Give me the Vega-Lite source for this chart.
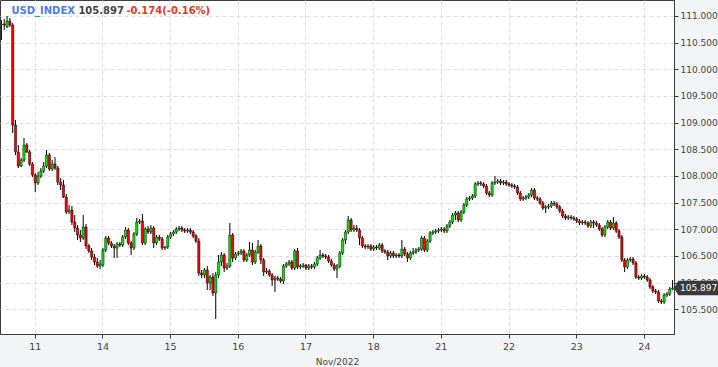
{
"$schema": "https://vega.github.io/schema/vega-lite/v6.json",
"width": 674,
"height": 334,
"padding": 0,
"autosize": {"type": "pad"},
"background": "#f3f4f6",
"view": {"fill": "#ffffff", "stroke": "#3c3c3c", "strokeWidth": 1},
"config": {"font": "DejaVu Sans", "axis": {"labelOverlap": false}, "axisY": {"labelOverlap": false}},
"data": {"values": [
{"t":"10 12:00","o":110.831,"h":110.925,"l":110.550,"c":110.850},
{"t":"10 13:00","o":110.850,"h":110.944,"l":110.737,"c":110.831},
{"t":"10 14:00","o":110.793,"h":111.000,"l":110.775,"c":110.906},
{"t":"10 15:00","o":110.906,"h":110.962,"l":110.793,"c":110.831},
{"t":"10 16:00","o":110.831,"h":110.868,"l":108.805,"c":108.955},
{"t":"10 17:00","o":108.955,"h":109.049,"l":108.392,"c":108.448},
{"t":"10 18:00","o":108.448,"h":108.580,"l":108.148,"c":108.186},
{"t":"10 19:00","o":108.186,"h":108.336,"l":108.167,"c":108.298},
{"t":"10 20:00","o":108.298,"h":108.711,"l":108.261,"c":108.580},
{"t":"10 21:00","o":108.580,"h":108.617,"l":108.430,"c":108.448},
{"t":"10 22:00","o":108.448,"h":108.486,"l":108.186,"c":108.223},
{"t":"10 23:00","o":108.223,"h":108.261,"l":107.979,"c":108.017},
{"t":"11 00:00","o":108.017,"h":108.054,"l":107.698,"c":107.867},
{"t":"11 01:00","o":107.867,"h":108.073,"l":107.829,"c":107.998},
{"t":"11 02:00","o":107.998,"h":108.148,"l":107.960,"c":108.092},
{"t":"11 03:00","o":108.092,"h":108.261,"l":108.054,"c":108.186},
{"t":"11 04:00","o":108.186,"h":108.486,"l":108.148,"c":108.392},
{"t":"11 05:00","o":108.392,"h":108.430,"l":108.092,"c":108.129},
{"t":"11 06:00","o":108.129,"h":108.298,"l":108.092,"c":108.223},
{"t":"11 07:00","o":108.223,"h":108.354,"l":108.111,"c":108.148},
{"t":"11 08:00","o":108.148,"h":108.186,"l":107.829,"c":107.885},
{"t":"11 09:00","o":107.885,"h":107.960,"l":107.735,"c":107.829},
{"t":"11 10:00","o":107.829,"h":107.923,"l":107.585,"c":107.604},
{"t":"11 11:00","o":107.604,"h":107.660,"l":107.285,"c":107.323},
{"t":"11 12:00","o":107.323,"h":107.454,"l":107.285,"c":107.360},
{"t":"11 13:00","o":107.360,"h":107.435,"l":107.079,"c":107.135},
{"t":"11 14:00","o":107.135,"h":107.266,"l":106.947,"c":107.022},
{"t":"11 15:00","o":107.022,"h":107.079,"l":106.797,"c":106.891},
{"t":"11 16:00","o":106.891,"h":106.985,"l":106.760,"c":106.835},
{"t":"11 17:00","o":106.835,"h":107.266,"l":106.797,"c":107.041},
{"t":"11 18:00","o":107.041,"h":107.097,"l":106.628,"c":106.685},
{"t":"11 19:00","o":106.685,"h":106.722,"l":106.553,"c":106.591},
{"t":"11 20:00","o":106.591,"h":106.647,"l":106.422,"c":106.478},
{"t":"11 21:00","o":106.478,"h":106.535,"l":106.328,"c":106.385},
{"t":"11 22:00","o":106.385,"h":106.460,"l":106.272,"c":106.309},
{"t":"11 23:00","o":106.309,"h":106.422,"l":106.253,"c":106.347},
{"t":"14 00:00","o":106.328,"h":106.647,"l":106.291,"c":106.610},
{"t":"14 01:00","o":106.610,"h":106.872,"l":106.572,"c":106.835},
{"t":"14 02:00","o":106.835,"h":106.872,"l":106.703,"c":106.741},
{"t":"14 03:00","o":106.741,"h":106.778,"l":106.647,"c":106.685},
{"t":"14 04:00","o":106.685,"h":106.722,"l":106.460,"c":106.647},
{"t":"14 05:00","o":106.647,"h":106.760,"l":106.460,"c":106.722},
{"t":"14 06:00","o":106.722,"h":106.760,"l":106.666,"c":106.703},
{"t":"14 07:00","o":106.703,"h":106.891,"l":106.666,"c":106.854},
{"t":"14 08:00","o":106.854,"h":107.041,"l":106.816,"c":106.985},
{"t":"14 09:00","o":106.985,"h":107.022,"l":106.703,"c":106.741},
{"t":"14 10:00","o":106.741,"h":106.778,"l":106.516,"c":106.647},
{"t":"14 11:00","o":106.647,"h":106.947,"l":106.610,"c":106.910},
{"t":"14 12:00","o":106.910,"h":107.210,"l":106.872,"c":107.135},
{"t":"14 13:00","o":107.135,"h":107.191,"l":107.097,"c":107.154},
{"t":"14 14:00","o":107.154,"h":107.285,"l":106.703,"c":106.741},
{"t":"14 15:00","o":106.741,"h":107.041,"l":106.703,"c":107.004},
{"t":"14 16:00","o":107.004,"h":107.060,"l":106.910,"c":106.947},
{"t":"14 17:00","o":106.947,"h":107.079,"l":106.910,"c":107.022},
{"t":"14 18:00","o":107.022,"h":107.060,"l":106.647,"c":106.741},
{"t":"14 19:00","o":106.741,"h":106.891,"l":106.703,"c":106.854},
{"t":"14 20:00","o":106.854,"h":106.891,"l":106.778,"c":106.816},
{"t":"14 21:00","o":106.816,"h":106.854,"l":106.610,"c":106.647},
{"t":"14 22:00","o":106.647,"h":106.685,"l":106.610,"c":106.666},
{"t":"14 23:00","o":106.666,"h":106.891,"l":106.628,"c":106.854},
{"t":"15 00:00","o":106.854,"h":106.947,"l":106.816,"c":106.910},
{"t":"15 01:00","o":106.910,"h":106.985,"l":106.872,"c":106.947},
{"t":"15 02:00","o":106.947,"h":107.041,"l":106.910,"c":107.004},
{"t":"15 03:00","o":107.004,"h":107.060,"l":106.966,"c":107.022},
{"t":"15 04:00","o":107.022,"h":107.060,"l":106.947,"c":106.985},
{"t":"15 05:00","o":106.985,"h":107.022,"l":106.929,"c":106.966},
{"t":"15 06:00","o":106.966,"h":107.022,"l":106.929,"c":106.985},
{"t":"15 07:00","o":106.985,"h":107.022,"l":106.910,"c":106.947},
{"t":"15 08:00","o":106.947,"h":106.985,"l":106.835,"c":106.872},
{"t":"15 09:00","o":106.872,"h":106.910,"l":106.741,"c":106.778},
{"t":"15 10:00","o":106.778,"h":106.835,"l":106.122,"c":106.178},
{"t":"15 11:00","o":106.178,"h":106.234,"l":106.084,"c":106.141},
{"t":"15 12:00","o":106.141,"h":106.272,"l":106.084,"c":106.234},
{"t":"15 13:00","o":106.234,"h":106.309,"l":105.859,"c":105.991},
{"t":"15 14:00","o":105.991,"h":106.141,"l":105.859,"c":106.103},
{"t":"15 15:00","o":106.103,"h":106.178,"l":105.747,"c":105.803},
{"t":"15 16:00","o":105.803,"h":106.197,"l":105.315,"c":106.141},
{"t":"15 17:00","o":106.141,"h":106.516,"l":106.084,"c":106.385},
{"t":"15 18:00","o":106.385,"h":106.572,"l":106.309,"c":106.516},
{"t":"15 19:00","o":106.516,"h":106.553,"l":106.197,"c":106.272},
{"t":"15 20:00","o":106.272,"h":106.366,"l":106.234,"c":106.309},
{"t":"15 21:00","o":106.309,"h":107.116,"l":106.272,"c":106.891},
{"t":"15 22:00","o":106.891,"h":106.929,"l":106.385,"c":106.460},
{"t":"15 23:00","o":106.460,"h":106.572,"l":106.422,"c":106.535},
{"t":"16 00:00","o":106.535,"h":106.591,"l":106.497,"c":106.553},
{"t":"16 01:00","o":106.553,"h":106.628,"l":106.516,"c":106.591},
{"t":"16 02:00","o":106.591,"h":106.628,"l":106.385,"c":106.422},
{"t":"16 03:00","o":106.422,"h":106.553,"l":106.385,"c":106.516},
{"t":"16 04:00","o":106.516,"h":106.760,"l":106.478,"c":106.610},
{"t":"16 05:00","o":106.610,"h":106.741,"l":106.328,"c":106.385},
{"t":"16 06:00","o":106.385,"h":106.610,"l":106.347,"c":106.572},
{"t":"16 07:00","o":106.572,"h":106.797,"l":106.535,"c":106.685},
{"t":"16 08:00","o":106.685,"h":106.722,"l":106.347,"c":106.422},
{"t":"16 09:00","o":106.422,"h":106.460,"l":106.122,"c":106.197},
{"t":"16 10:00","o":106.197,"h":106.272,"l":106.159,"c":106.216},
{"t":"16 11:00","o":106.216,"h":106.253,"l":106.103,"c":106.141},
{"t":"16 12:00","o":106.141,"h":106.178,"l":105.934,"c":106.047},
{"t":"16 13:00","o":106.047,"h":106.122,"l":105.822,"c":106.084},
{"t":"16 14:00","o":106.084,"h":106.122,"l":106.028,"c":106.066},
{"t":"16 15:00","o":106.066,"h":106.103,"l":105.991,"c":106.028},
{"t":"16 16:00","o":106.028,"h":106.347,"l":105.972,"c":106.309},
{"t":"16 17:00","o":106.309,"h":106.385,"l":106.272,"c":106.347},
{"t":"16 18:00","o":106.347,"h":106.422,"l":106.309,"c":106.385},
{"t":"16 19:00","o":106.385,"h":106.422,"l":106.234,"c":106.272},
{"t":"16 20:00","o":106.272,"h":106.628,"l":106.234,"c":106.591},
{"t":"16 21:00","o":106.591,"h":106.647,"l":106.253,"c":106.291},
{"t":"16 22:00","o":106.291,"h":106.347,"l":106.253,"c":106.309},
{"t":"16 23:00","o":106.309,"h":106.366,"l":106.272,"c":106.328},
{"t":"17 00:00","o":106.328,"h":106.347,"l":106.234,"c":106.272},
{"t":"17 01:00","o":106.272,"h":106.347,"l":106.234,"c":106.309},
{"t":"17 02:00","o":106.309,"h":106.347,"l":106.253,"c":106.291},
{"t":"17 03:00","o":106.291,"h":106.385,"l":106.253,"c":106.347},
{"t":"17 04:00","o":106.347,"h":106.497,"l":106.309,"c":106.460},
{"t":"17 05:00","o":106.460,"h":106.610,"l":106.422,"c":106.516},
{"t":"17 06:00","o":106.516,"h":106.553,"l":106.460,"c":106.497},
{"t":"17 07:00","o":106.497,"h":106.535,"l":106.441,"c":106.478},
{"t":"17 08:00","o":106.478,"h":106.516,"l":106.366,"c":106.403},
{"t":"17 09:00","o":106.403,"h":106.441,"l":106.291,"c":106.328},
{"t":"17 10:00","o":106.328,"h":106.366,"l":106.216,"c":106.253},
{"t":"17 11:00","o":106.253,"h":106.347,"l":106.084,"c":106.309},
{"t":"17 12:00","o":106.309,"h":106.591,"l":106.272,"c":106.553},
{"t":"17 13:00","o":106.553,"h":106.835,"l":106.516,"c":106.797},
{"t":"17 14:00","o":106.797,"h":106.985,"l":106.722,"c":106.947},
{"t":"17 15:00","o":106.947,"h":107.248,"l":106.910,"c":107.173},
{"t":"17 16:00","o":107.173,"h":107.210,"l":106.947,"c":106.985},
{"t":"17 17:00","o":106.985,"h":107.079,"l":106.947,"c":107.022},
{"t":"17 18:00","o":107.022,"h":107.079,"l":106.947,"c":106.985},
{"t":"17 19:00","o":106.985,"h":107.022,"l":106.703,"c":106.835},
{"t":"17 20:00","o":106.835,"h":106.872,"l":106.647,"c":106.685},
{"t":"17 21:00","o":106.685,"h":106.722,"l":106.628,"c":106.666},
{"t":"17 22:00","o":106.666,"h":106.722,"l":106.628,"c":106.685},
{"t":"17 23:00","o":106.685,"h":106.722,"l":106.591,"c":106.628},
{"t":"18 00:00","o":106.628,"h":106.703,"l":106.591,"c":106.666},
{"t":"18 01:00","o":106.666,"h":106.703,"l":106.610,"c":106.647},
{"t":"18 02:00","o":106.647,"h":106.741,"l":106.610,"c":106.703},
{"t":"18 03:00","o":106.703,"h":106.741,"l":106.553,"c":106.591},
{"t":"18 04:00","o":106.591,"h":106.628,"l":106.535,"c":106.572},
{"t":"18 05:00","o":106.572,"h":106.610,"l":106.422,"c":106.497},
{"t":"18 06:00","o":106.497,"h":106.591,"l":106.460,"c":106.553},
{"t":"18 07:00","o":106.553,"h":106.591,"l":106.460,"c":106.497},
{"t":"18 08:00","o":106.497,"h":106.553,"l":106.460,"c":106.516},
{"t":"18 09:00","o":106.516,"h":106.553,"l":106.460,"c":106.497},
{"t":"18 10:00","o":106.497,"h":106.797,"l":106.460,"c":106.628},
{"t":"18 11:00","o":106.628,"h":106.666,"l":106.497,"c":106.535},
{"t":"18 12:00","o":106.535,"h":106.572,"l":106.385,"c":106.460},
{"t":"18 13:00","o":106.460,"h":106.591,"l":106.422,"c":106.553},
{"t":"18 14:00","o":106.553,"h":106.647,"l":106.516,"c":106.572},
{"t":"18 15:00","o":106.572,"h":106.647,"l":106.535,"c":106.610},
{"t":"18 16:00","o":106.610,"h":106.666,"l":106.572,"c":106.628},
{"t":"18 17:00","o":106.628,"h":106.872,"l":106.591,"c":106.835},
{"t":"18 18:00","o":106.835,"h":106.872,"l":106.572,"c":106.610},
{"t":"18 19:00","o":106.610,"h":106.816,"l":106.572,"c":106.778},
{"t":"18 20:00","o":106.778,"h":106.966,"l":106.741,"c":106.929},
{"t":"18 21:00","o":106.929,"h":106.985,"l":106.891,"c":106.947},
{"t":"18 22:00","o":106.947,"h":107.004,"l":106.910,"c":106.966},
{"t":"18 23:00","o":106.966,"h":107.022,"l":106.929,"c":106.985},
{"t":"21 00:00","o":106.985,"h":107.041,"l":106.947,"c":107.004},
{"t":"21 01:00","o":107.004,"h":107.041,"l":106.929,"c":106.966},
{"t":"21 02:00","o":106.966,"h":107.097,"l":106.929,"c":107.060},
{"t":"21 03:00","o":107.060,"h":107.173,"l":107.022,"c":107.135},
{"t":"21 04:00","o":107.135,"h":107.304,"l":107.097,"c":107.266},
{"t":"21 05:00","o":107.266,"h":107.341,"l":107.173,"c":107.304},
{"t":"21 06:00","o":107.304,"h":107.341,"l":107.135,"c":107.173},
{"t":"21 07:00","o":107.173,"h":107.360,"l":107.135,"c":107.323},
{"t":"21 08:00","o":107.323,"h":107.491,"l":107.285,"c":107.454},
{"t":"21 09:00","o":107.454,"h":107.604,"l":107.416,"c":107.566},
{"t":"21 10:00","o":107.566,"h":107.623,"l":107.529,"c":107.585},
{"t":"21 11:00","o":107.585,"h":107.660,"l":107.548,"c":107.623},
{"t":"21 12:00","o":107.623,"h":107.885,"l":107.585,"c":107.848},
{"t":"21 13:00","o":107.848,"h":107.904,"l":107.810,"c":107.867},
{"t":"21 14:00","o":107.867,"h":107.904,"l":107.810,"c":107.848},
{"t":"21 15:00","o":107.848,"h":107.885,"l":107.773,"c":107.810},
{"t":"21 16:00","o":107.810,"h":107.848,"l":107.642,"c":107.679},
{"t":"21 17:00","o":107.679,"h":107.717,"l":107.604,"c":107.642},
{"t":"21 18:00","o":107.642,"h":107.904,"l":107.604,"c":107.867},
{"t":"21 19:00","o":107.867,"h":107.998,"l":107.829,"c":107.885},
{"t":"21 20:00","o":107.885,"h":107.942,"l":107.848,"c":107.904},
{"t":"21 21:00","o":107.904,"h":107.942,"l":107.829,"c":107.867},
{"t":"21 22:00","o":107.867,"h":107.923,"l":107.829,"c":107.885},
{"t":"21 23:00","o":107.885,"h":107.923,"l":107.810,"c":107.848},
{"t":"22 00:00","o":107.848,"h":107.885,"l":107.792,"c":107.829},
{"t":"22 01:00","o":107.829,"h":107.867,"l":107.773,"c":107.810},
{"t":"22 02:00","o":107.810,"h":107.848,"l":107.754,"c":107.792},
{"t":"22 03:00","o":107.792,"h":107.829,"l":107.642,"c":107.679},
{"t":"22 04:00","o":107.679,"h":107.717,"l":107.529,"c":107.566},
{"t":"22 05:00","o":107.566,"h":107.623,"l":107.529,"c":107.585},
{"t":"22 06:00","o":107.585,"h":107.642,"l":107.548,"c":107.604},
{"t":"22 07:00","o":107.604,"h":107.679,"l":107.566,"c":107.642},
{"t":"22 08:00","o":107.642,"h":107.773,"l":107.604,"c":107.735},
{"t":"22 09:00","o":107.735,"h":107.773,"l":107.548,"c":107.585},
{"t":"22 10:00","o":107.585,"h":107.623,"l":107.529,"c":107.566},
{"t":"22 11:00","o":107.566,"h":107.604,"l":107.454,"c":107.491},
{"t":"22 12:00","o":107.491,"h":107.529,"l":107.360,"c":107.398},
{"t":"22 13:00","o":107.398,"h":107.454,"l":107.304,"c":107.416},
{"t":"22 14:00","o":107.416,"h":107.473,"l":107.379,"c":107.435},
{"t":"22 15:00","o":107.435,"h":107.529,"l":107.398,"c":107.491},
{"t":"22 16:00","o":107.491,"h":107.529,"l":107.435,"c":107.473},
{"t":"22 17:00","o":107.473,"h":107.510,"l":107.379,"c":107.416},
{"t":"22 18:00","o":107.416,"h":107.454,"l":107.304,"c":107.341},
{"t":"22 19:00","o":107.341,"h":107.379,"l":107.210,"c":107.248},
{"t":"22 20:00","o":107.248,"h":107.285,"l":107.173,"c":107.210},
{"t":"22 21:00","o":107.210,"h":107.266,"l":107.173,"c":107.229},
{"t":"22 22:00","o":107.229,"h":107.266,"l":107.173,"c":107.210},
{"t":"22 23:00","o":107.210,"h":107.248,"l":107.154,"c":107.191},
{"t":"23 00:00","o":107.191,"h":107.229,"l":107.116,"c":107.154},
{"t":"23 01:00","o":107.154,"h":107.191,"l":107.079,"c":107.116},
{"t":"23 02:00","o":107.116,"h":107.173,"l":107.079,"c":107.135},
{"t":"23 03:00","o":107.135,"h":107.173,"l":107.079,"c":107.116},
{"t":"23 04:00","o":107.116,"h":107.154,"l":107.022,"c":107.060},
{"t":"23 05:00","o":107.060,"h":107.173,"l":107.022,"c":107.135},
{"t":"23 06:00","o":107.135,"h":107.173,"l":107.022,"c":107.116},
{"t":"23 07:00","o":107.116,"h":107.154,"l":107.041,"c":107.079},
{"t":"23 08:00","o":107.079,"h":107.116,"l":106.966,"c":107.004},
{"t":"23 09:00","o":107.004,"h":107.041,"l":106.854,"c":106.891},
{"t":"23 10:00","o":106.891,"h":107.079,"l":106.854,"c":107.041},
{"t":"23 11:00","o":107.041,"h":107.173,"l":107.004,"c":107.135},
{"t":"23 12:00","o":107.135,"h":107.173,"l":106.985,"c":107.022},
{"t":"23 13:00","o":107.022,"h":107.229,"l":106.985,"c":107.116},
{"t":"23 14:00","o":107.116,"h":107.154,"l":106.929,"c":106.966},
{"t":"23 15:00","o":106.966,"h":107.004,"l":106.816,"c":106.854},
{"t":"23 16:00","o":106.854,"h":106.891,"l":106.385,"c":106.422},
{"t":"23 17:00","o":106.422,"h":106.460,"l":106.197,"c":106.291},
{"t":"23 18:00","o":106.291,"h":106.460,"l":106.253,"c":106.422},
{"t":"23 19:00","o":106.422,"h":106.478,"l":106.385,"c":106.441},
{"t":"23 20:00","o":106.441,"h":106.478,"l":106.328,"c":106.366},
{"t":"23 21:00","o":106.366,"h":106.403,"l":106.066,"c":106.103},
{"t":"23 22:00","o":106.103,"h":106.141,"l":106.047,"c":106.084},
{"t":"23 23:00","o":106.084,"h":106.159,"l":106.047,"c":106.122},
{"t":"24 00:00","o":106.122,"h":106.159,"l":106.066,"c":106.103},
{"t":"24 01:00","o":106.103,"h":106.141,"l":106.009,"c":106.047},
{"t":"24 02:00","o":106.047,"h":106.084,"l":105.878,"c":105.916},
{"t":"24 03:00","o":105.916,"h":105.953,"l":105.803,"c":105.840},
{"t":"24 04:00","o":105.840,"h":105.878,"l":105.784,"c":105.822},
{"t":"24 05:00","o":105.822,"h":105.859,"l":105.615,"c":105.653},
{"t":"24 06:00","o":105.653,"h":105.690,"l":105.597,"c":105.634},
{"t":"24 07:00","o":105.634,"h":105.803,"l":105.597,"c":105.765},
{"t":"24 08:00","o":105.765,"h":105.822,"l":105.728,"c":105.784},
{"t":"24 09:00","o":105.784,"h":105.916,"l":105.747,"c":105.878},
{"t":"24 10:00","o":105.878,"h":106.047,"l":105.859,"c":105.897}
]},
"encoding": {
  "x": {
    "field": "t", "type": "ordinal",
    "scale": {"paddingInner": 0, "paddingOuter": 0},
    "axis": {
      "values": ["11 00:00","14 00:00","15 00:00","16 00:00","17 00:00","18 00:00","21 00:00","22 00:00","23 00:00","24 00:00"],
      "labelExpr": "slice(datum.value, 0, 2)",
      "labelAngle": 0,
      "title": "Nov/2022",
      "titleFont": "DejaVu Sans", "titleFontSize": 9, "titleFontWeight": "normal", "titleColor": "#444444", "titlePadding": 7,
      "labelFont": "DejaVu Sans", "labelFontSize": 9.5, "labelColor": "#444444", "labelPadding": 3,
      "tickSize": 4, "tickColor": "#3c3c3c", "domainColor": "#3c3c3c",
      "grid": true, "gridColor": "#dedede", "gridDash": [4, 3]
    }
  }
},
"layer": [
  {
    "mark": {"type": "rule", "color": "#000000", "strokeWidth": 1},
    "encoding": {
      "y": {
        "field": "l", "type": "quantitative",
        "scale": {"domain": [105.034, 111.3], "nice": false, "zero": false},
        "axis": {
          "orient": "right", "title": null, "format": ".3f",
          "values": [105.5, 106, 106.5, 107, 107.5, 108, 108.5, 109, 109.5, 110, 110.5, 111],
          "labelOverlap": false, "labelFlush": false, "labelBound": false,
          "labelFont": "DejaVu Sans", "labelFontSize": 9, "labelColor": "#444444", "labelPadding": 2,
          "tickSize": 4, "tickColor": "#3c3c3c", "domainColor": "#3c3c3c",
          "grid": true, "gridColor": "#dedede", "gridDash": [4, 3]
        }
      },
      "y2": {"field": "h"}
    }
  },
  {
    "mark": {"type": "bar", "width": 2.2, "stroke": "#000000", "strokeWidth": 0.5},
    "encoding": {
      "y": {"field": "o", "type": "quantitative", "axis": {"orient": "right", "title": null, "format": ".3f", "values": [105.5, 106, 106.5, 107, 107.5, 108, 108.5, 109, 109.5, 110, 110.5, 111], "labelOverlap": false, "labelFlush": false, "labelBound": false, "labelFont": "DejaVu Sans", "labelFontSize": 9, "labelColor": "#444444", "labelPadding": 2, "tickSize": 4, "tickColor": "#3c3c3c", "domainColor": "#3c3c3c", "grid": true, "gridColor": "#dedede", "gridDash": [4, 3]}},
      "y2": {"field": "c"},
      "color": {"condition": {"test": "datum.c >= datum.o", "value": "#00f000"}, "value": "#ff0000"}
    }
  },
  {
    "data": {"values": [{"label": "USD_INDEX"}]},
    "mark": {"type": "text", "align": "left", "baseline": "middle", "dx": 10, "dy": 11, "font": "DejaVu Sans", "fontSize": 10, "fontWeight": "bold", "color": "#4a7fe3"},
    "encoding": {"x": {"datum": "10 12:00", "type": "ordinal"}, "y": {"datum": 111.3, "type": "quantitative", "axis": {"orient": "right", "title": null, "format": ".3f", "values": [105.5, 106, 106.5, 107, 107.5, 108, 108.5, 109, 109.5, 110, 110.5, 111], "labelOverlap": false, "labelFlush": false, "labelBound": false, "labelFont": "DejaVu Sans", "labelFontSize": 9, "labelColor": "#444444", "labelPadding": 2, "tickSize": 4, "tickColor": "#3c3c3c", "domainColor": "#3c3c3c", "grid": true, "gridColor": "#dedede", "gridDash": [4, 3]}}, "text": {"field": "label"}}
  },
  {
    "data": {"values": [{"label": "105.897"}]},
    "mark": {"type": "text", "align": "left", "baseline": "middle", "dx": 77, "dy": 11, "font": "DejaVu Sans", "fontSize": 10, "fontWeight": "bold", "color": "#444444"},
    "encoding": {"x": {"datum": "10 12:00", "type": "ordinal"}, "y": {"datum": 111.3, "type": "quantitative", "axis": {"orient": "right", "title": null, "format": ".3f", "values": [105.5, 106, 106.5, 107, 107.5, 108, 108.5, 109, 109.5, 110, 110.5, 111], "labelOverlap": false, "labelFlush": false, "labelBound": false, "labelFont": "DejaVu Sans", "labelFontSize": 9, "labelColor": "#444444", "labelPadding": 2, "tickSize": 4, "tickColor": "#3c3c3c", "domainColor": "#3c3c3c", "grid": true, "gridColor": "#dedede", "gridDash": [4, 3]}}, "text": {"field": "label"}}
  },
  {
    "data": {"values": [{"label": "-0.174(-0.16%)"}]},
    "mark": {"type": "text", "align": "left", "baseline": "middle", "dx": 125, "dy": 11, "font": "DejaVu Sans", "fontSize": 10, "fontWeight": "bold", "color": "#e03c1f"},
    "encoding": {"x": {"datum": "10 12:00", "type": "ordinal"}, "y": {"datum": 111.3, "type": "quantitative", "axis": {"orient": "right", "title": null, "format": ".3f", "values": [105.5, 106, 106.5, 107, 107.5, 108, 108.5, 109, 109.5, 110, 110.5, 111], "labelOverlap": false, "labelFlush": false, "labelBound": false, "labelFont": "DejaVu Sans", "labelFontSize": 9, "labelColor": "#444444", "labelPadding": 2, "tickSize": 4, "tickColor": "#3c3c3c", "domainColor": "#3c3c3c", "grid": true, "gridColor": "#dedede", "gridDash": [4, 3]}}, "text": {"field": "label"}}
  },
  {
    "data": {"values": [{"p": 105.897, "label": "105.897"}]},
    "mark": {"type": "point", "shape": "M0,0L0.2,-0.33L2,-0.33L2,0.33L0.2,0.33Z", "size": 1936, "filled": true, "color": "#3a3a3a", "opacity": 1, "strokeWidth": 0},
    "encoding": {"x": {"value": "width"}, "y": {"field": "p", "type": "quantitative", "axis": {"orient": "right", "title": null, "format": ".3f", "values": [105.5, 106, 106.5, 107, 107.5, 108, 108.5, 109, 109.5, 110, 110.5, 111], "labelOverlap": false, "labelFlush": false, "labelBound": false, "labelFont": "DejaVu Sans", "labelFontSize": 9, "labelColor": "#444444", "labelPadding": 2, "tickSize": 4, "tickColor": "#3c3c3c", "domainColor": "#3c3c3c", "grid": true, "gridColor": "#dedede", "gridDash": [4, 3]}}}
  },
  {
    "data": {"values": [{"p": 105.897, "label": "105.897"}]},
    "mark": {"type": "text", "align": "left", "baseline": "middle", "dx": 6, "font": "DejaVu Sans", "fontSize": 9, "color": "#ffffff"},
    "encoding": {"x": {"value": "width"}, "y": {"field": "p", "type": "quantitative", "axis": {"orient": "right", "title": null, "format": ".3f", "values": [105.5, 106, 106.5, 107, 107.5, 108, 108.5, 109, 109.5, 110, 110.5, 111], "labelOverlap": false, "labelFlush": false, "labelBound": false, "labelFont": "DejaVu Sans", "labelFontSize": 9, "labelColor": "#444444", "labelPadding": 2, "tickSize": 4, "tickColor": "#3c3c3c", "domainColor": "#3c3c3c", "grid": true, "gridColor": "#dedede", "gridDash": [4, 3]}}, "text": {"field": "label"}}
  }
]
}
